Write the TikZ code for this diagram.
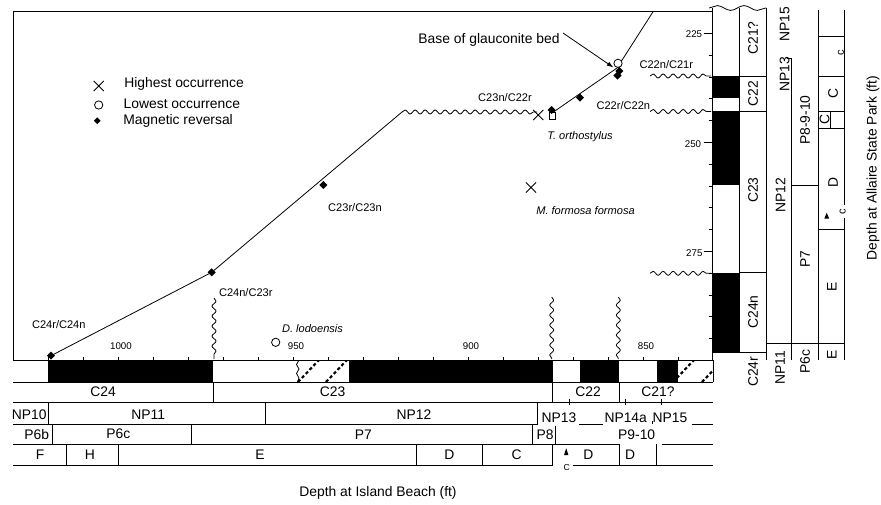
\documentclass[tikz,border=0pt]{standalone}
\usepackage{fontspec}
\setmainfont{Liberation Sans}
\usetikzlibrary{shapes.geometric,shapes.misc,decorations.pathmorphing,arrows.meta}
\begin{document}
\begin{tikzpicture}[x=0.75pt,y=-0.75pt,line width=0.6pt,
  big/.style={font=\fontsize{10.4}{12}\selectfont,inner sep=0pt,text height=7.45pt,text depth=0pt},
  sml/.style={font=\fontsize{8.3}{10}\selectfont,inner sep=0pt,text height=5.95pt,text depth=0pt},
  tkl/.style={font=\fontsize{7.3}{9}\selectfont,inner sep=0pt,text height=5.2pt,text depth=0pt},
  tny/.style={font=\fontsize{6.5}{8}\selectfont,inner sep=0pt,text height=4.7pt,text depth=0pt},
  rev/.style={diamond,fill=black,inner sep=0pt,minimum size=6.3pt},
  lowo/.style={circle,draw,fill=white,inner sep=0pt,minimum size=6.2pt},
  higho/.style={cross out,draw,inner sep=0pt,minimum size=7pt},
  sqm/.style={rectangle,draw,fill=white,inner sep=0pt,minimum size=5pt},
  wavy/.style={decorate,decoration={snake,segment length=7.5pt,amplitude=1.5pt}},
  bigwave/.style={decorate,decoration={snake,segment length=20pt,amplitude=1.8pt}},
  hatchln/.style={line width=1.6pt,dash pattern=on 2.4pt off 1.8pt},
  conn/.style={line width=0.6pt},
  arr/.style={-{Latex[length=5pt,width=3.4pt]},line width=0.6pt}]
\fill[white] (0,0) rectangle (881,504);
\useasboundingbox (0,0) rectangle (881,504);

% ---------- plot frame ----------
\draw (13,11) -- (712,11);
\draw (13,11) -- (13,360);
\draw (13,360) -- (713,360);
\foreach \k in {0,...,18} \draw ({48+35*\k},360) -- ({48+35*\k},357);
\node[tkl] (t1000) at (121,346) {1000};
\node[tkl] (t950) at (296,346) {950};
\node[tkl] (t900) at (471,346) {900};
\node[tkl] (t850) at (646,346) {850};

% ---------- legend ----------
\node[higho] (lg1) at (98.7,86) {};
\node[big,anchor=west] (lg1t) at (124,83) {Highest occurrence};
\node[lowo] (lg2) at (98.7,105) {};
\node[big,anchor=west] (lg2t) at (123.3,103.3) {Lowest occurrence};
\node[rev,minimum size=5.3pt] (lg3) at (97.3,120.7) {};
\node[big,anchor=west] (lg3t) at (123,120) {Magnetic reversal};

% ---------- correlation line ----------
\coordinate (w1) at (402,112);
\coordinate (w2) at (537,112);
\coordinate (s0) at (552,113);
\coordinate (cl) at (617,68);
\coordinate (tp) at (653.5,11);
\node[rev] (r1) at (51,355.7) {};
\node[rev] (r2) at (211.7,272.3) {};
\draw[conn] (r1.center) -- (r2.center) -- (w1);
\draw[wavy] (w1) -- (w2);
\draw[conn] (s0) -- (cl) -- (tp);

% wavy lines in plot
\draw[wavy] (214,298) -- (214,359);
\draw[wavy] (551.7,297) -- (551.7,359);
\draw[wavy] (618.3,297) -- (618.3,359);
\draw[wavy] (650,76) -- (711,76);
\draw[wavy] (650,111.5) -- (711,111.5);
\draw[wavy] (650,273.3) -- (711,273.3);

% markers
\node[rev] (r3) at (323.3,185) {};
\node[higho] (h1) at (538.3,115) {};
\node[sqm] (s1) at (552.3,115.7) {};
\node[rev] (r4) at (551.7,110) {};
\node[rev] (r5) at (580,97.7) {};
\node[lowo] (o1) at (618,63.3) {};
\node[rev] (r6) at (619.3,71) {};
\node[rev] (r7) at (617.5,75.5) {};
\node[higho] (h2) at (531,187.5) {};
\node[lowo] (o2) at (275.7,342.3) {};

% labels in plot
\node[sml] (lb1) at (58.8,325) {C24r/C24n};
\node[sml] (lb2) at (245.8,292.3) {C24n/C23r};
\node[sml] (lb3) at (355,208) {C23r/C23n};
\node[sml] (lb4) at (505,97.7) {C23n/C22r};
\node[sml] (lb5) at (623.3,106) {C22r/C22n};
\node[sml] (lb6) at (666.3,65) {C22n/C21r};
\node[sml,font=\fontsize{8.3}{10}\selectfont\itshape] (sp1) at (312.5,328.3) {D. lodoensis};
\node[sml,font=\fontsize{8.3}{10}\selectfont\itshape] (sp2) at (580,136) {T. orthostylus};
\node[sml,font=\fontsize{8.3}{10}\selectfont\itshape] (sp3) at (585.5,210.7) {M. formosa formosa};
\node[big] (base) at (489,38.3) {Base of glauconite bed};
\coordinate (astart) at (563,33);
\coordinate (aend) at (613.5,67.5);
\draw[arr] (astart) -- (aend);

% ---------- Island Beach magnetic bar ----------
\fill (48,360) rectangle (213,382);
\fill (349,360) rectangle (552.7,382);
\fill (580,360) rectangle (619.3,382);
\fill (656.7,360) rectangle (678,382);
\begin{scope}
\clip (297,360) rectangle (349,382);
\draw[hatchln] (298,382) -- (319,360);
\draw[hatchln] (326,382) -- (347,360);
\end{scope}
\begin{scope}
\clip (678,360) rectangle (713,382);
\draw[hatchln] (673,382) -- (694,360);
\draw[hatchln] (702,382) -- (723,360);
\end{scope}
\draw (299,360) -- (296.5,364.5) -- (299,369) -- (296.5,373.5) -- (299,378) -- (297.5,382);
\draw (13,382) -- (713,382);
\draw (713,360) -- (713,382);

% ---------- rows ----------
\draw (13,402) -- (713,402);
\draw (13,424) -- (537.3,424);
\draw (579.3,424) -- (602.7,424);
\draw (691.7,424) -- (713,424);
\draw (13,444.3) -- (619.3,444.3);
\draw (661.7,444.3) -- (713,444.3);
\draw (13,465) -- (552.7,465);
\draw (573,465) -- (713,465);
% row 1 dividers
\draw (213,382) -- (213,402);
\draw (552.7,382) -- (552.7,402);
\draw (619.3,382) -- (619.3,402);
\foreach \xx in {569.3,625.5,661.7} \draw (\xx,398.5) -- (\xx,404.5);
% row 2 dividers
\draw (48.3,402) -- (48.3,424);
\draw (265.7,402) -- (265.7,424);
\draw (537.3,402) -- (537.3,425);
\draw (652.7,421) -- (652.7,424);
% row 3 dividers
\draw (52.3,424) -- (52.3,444.3);
\draw (191.7,424) -- (191.7,444.3);
\draw (532.7,424) -- (532.7,444.3);
\draw (555,425.7) -- (555,444.3);
% row 4 dividers
\foreach \xx in {66.7,118.3,416.7,482.3,552.7,619.3,656.7} \draw (\xx,444.3) -- (\xx,465);
\fill (566.2,448.3) -- (564,455) -- (568.4,455) -- cycle;

% row labels
\node[big] (c24) at (103,392) {C24};
\node[big] (c23) at (332.5,392) {C23};
\node[big] (c22) at (588,392) {C22};
\node[big] (c21) at (658,392) {C21?};
\node[big] (np10) at (29.3,414.5) {NP10};
\node[big] (np11) at (148.3,414.5) {NP11};
\node[big] (np12) at (414,414.5) {NP12};
\node[big] (np13) at (559,417.3) {NP13};
\node[big] (np14) at (625.7,417.3) {NP14a};
\node[big] (np15) at (670,417.3) {NP15};
\node[big] (p6b) at (36.7,434.5) {P6b};
\node[big] (p6c) at (118.3,434) {P6c};
\node[big] (p7) at (363.3,434.5) {P7};
\node[big] (p8) at (545,434.5) {P8};
\node[big] (p910) at (636.7,434.5) {P9-10};
\node[big] (zf) at (40,455) {F};
\node[big] (zh) at (90,455) {H};
\node[big] (ze) at (260,455) {E};
\node[big] (zd1) at (449.3,455) {D};
\node[big] (zc1) at (516.7,455) {C};
\node[big] (zd2) at (588.3,455) {D};
\node[big] (zd3) at (630,455) {D};
\node[tny] (zc2) at (566.7,467.7) {C};
\node[big] (xlab) at (378,492) {Depth at Island Beach (ft)};

% ---------- Allaire columns ----------
\fill (712,76) rectangle (739,98.3);
\fill (712,111) rectangle (739,185);
\fill (712,272.7) rectangle (739,352.3);
\draw[bigwave] (709,8) -- (766,8);
\draw (712,8) -- (712,360);
\draw (739,8) -- (739,352.3);
\draw (766,8) -- (766,360);
\draw (739,76) -- (766,76);
\draw (739,111) -- (766,111);
\draw (739,272.7) -- (766,272.7);
\draw (712,352.3) -- (766,352.3);
\foreach \k in {0,...,14} \draw (708.5,{33.3+21.8*\k}) -- (712,{33.3+21.8*\k});
\foreach \k in {0,5,10} \draw (703.5,{33.3+21.8*\k}) -- (712,{33.3+21.8*\k});
\node[tkl] (a225) at (694,34.5) {225};
\node[tkl] (a250) at (693,144) {250};
\node[tkl] (a275) at (694.3,253.5) {275};

\node[big,rotate=90] (vc21) at (753,38) {C21?};
\node[big,rotate=90] (vc22) at (753,93.5) {C22};
\node[big,rotate=90] (vc23) at (753,190) {C23};
\node[big,rotate=90] (vc24n) at (753,312) {C24n};
\node[big,rotate=90] (vc24r) at (753,371.7) {C24r};

\draw (786.5,58.3) -- (791.5,58.3);
\draw (791.5,58.3) -- (791.5,360);
\draw (818.5,10) -- (818.5,360);
\draw (844,10) -- (844,205);
\draw (844,218) -- (844,360);
\draw (766,343.3) -- (844,343.3);
\draw (791.5,185) -- (818.5,185);
\foreach \yy in {36.7,76,111,128.3,229.3} \draw (818.5,\yy) -- (844,\yy);
\draw (830,111) -- (830,128.3);
\fill (826.7,212.7) -- (824.3,218.5) -- (829.1,218.5) -- cycle;

\node[big,rotate=90] (vnp15) at (784.5,24) {NP15};
\node[big,rotate=90] (vnp13) at (784.5,74) {NP13};
\node[big,rotate=90] (vnp12) at (780.5,195) {NP12};
\node[big,rotate=90] (vnp11) at (780,368) {NP11};
\node[big,rotate=90] (vp810) at (805,120) {P8-9-10};
\node[big,rotate=90] (vp7) at (805,259) {P7};
\node[big,rotate=90] (vp6c) at (805,362) {P6c};
\node[sml,rotate=90] (vc1) at (840,53) {c};
\node[big,rotate=90] (vc2) at (833,93.5) {C};
\node[big,rotate=90] (vc3) at (824.5,119.7) {C};
\node[big,rotate=90] (vd) at (833,182) {D};
\node[sml,rotate=90] (vc4) at (841.7,211.5) {c};
\node[big,rotate=90] (ve1) at (831.7,287) {E};
\node[big,rotate=90] (ve2) at (831.7,355) {E};
\node[big,rotate=90] (ylab) at (871.7,168) {Depth at Allaire State Park (ft)};
\end{tikzpicture}
\end{document}
